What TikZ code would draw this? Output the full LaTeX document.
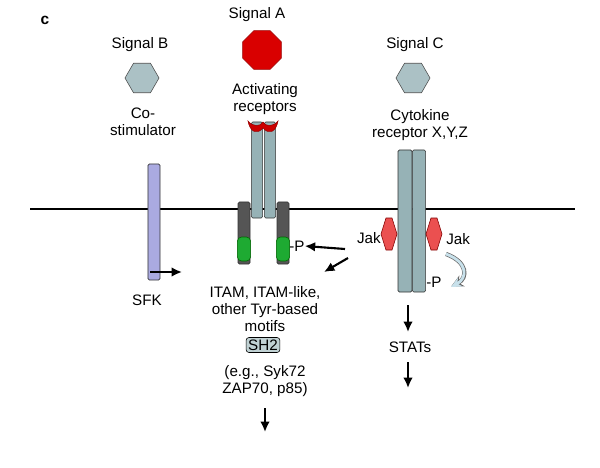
\documentclass[tikz,border=0pt]{standalone}
\usepackage{fontspec}
\setmainfont{Liberation Sans}
\usetikzlibrary{shapes,arrows.meta,positioning}
\definecolor{recgrey}{RGB}{150,178,182}
\definecolor{darkbar}{RGB}{85,85,85}
\definecolor{itamgreen}{RGB}{30,170,50}
\definecolor{jakred}{RGB}{235,80,80}
\definecolor{sfkblue}{RGB}{170,170,225}
\definecolor{curlblue}{RGB}{200,225,235}
\tikzset{
  lbl/.style={font=\fontsize{10.8}{12}\selectfont, align=center, inner sep=0pt},
  hexa/.style={regular polygon, regular polygon sides=6, draw=black!70, fill=recgrey!80, minimum size=0.85cm, inner sep=0pt},
  bar/.style={rectangle, draw=black!80, fill=recgrey, rounded corners=1pt, inner sep=0pt},
  sig/.style={-{Latex[length=2.6mm,width=2.4mm]}, line width=1.5pt},
  jak/.style={fill=jakred, draw=red!50!black},
}
\begin{document}
\begin{tikzpicture}[x=0.025cm, y=-0.025cm]
      \useasboundingbox (0,0) rectangle (600,468);
      %\draw[help lines] (0,0) grid[step=50] (600,468);

      \node [lbl, font=\bfseries\fontsize{11}{12}\selectfont] (tagc) at (45,20) {c};

      % membrane
      \coordinate (mleft) at (30,209);
      \coordinate (mright) at (575,209);
      \draw [line width=1.6pt] (mleft) -- (mright);

      % signal B
      \node [lbl] (sigb) at (140,45) {Signal B};
      \node [hexa] (hexb) at (142,78) {};
      \node [lbl] (costim) at (143,122) {Co-\\stimulator};
      \node [bar, fill=sfkblue, minimum width=0.3cm, minimum height=2.9cm] (sfk) at (154,222) {};
      \node [lbl] (sfklbl) at (147,300) {SFK};
      \coordinate (sfkarr) at (182,272);
      \draw [sig] (150,272) -- (sfkarr);

      % signal A
      \node [lbl] (siga) at (257,15) {Signal A};
      \node [regular polygon, regular polygon sides=8, draw=red!60!black, fill=red!85!black, minimum size=1.05cm, inner sep=0pt] (octa) at (262,50) {};
      \node [lbl] (actrec) at (265,99) {Activating\\receptors};
      \node [bar, minimum width=0.28cm, minimum height=2.4cm] (reca1) at (257,170) {};
      \node [bar, minimum width=0.28cm, minimum height=2.4cm] (reca2) at (270,170) {};
      \draw [fill=red!80!black, draw=red!60!black] (248,121) .. controls (250,132) and (257,135) .. (263,128)
            .. controls (269,135) and (276,132) .. (278,121) .. controls (273,127) and (266,127) .. (263,122)
            .. controls (260,127) and (253,127) .. cycle;
      \node [bar, fill=darkbar, minimum width=0.3cm, minimum height=1.55cm] (chainl) at (244,233) {};
      \node [bar, fill=darkbar, minimum width=0.3cm, minimum height=1.55cm] (chainr) at (283,233) {};
      \node [rectangle, rounded corners=3pt, fill=itamgreen, draw=green!40!black, minimum width=0.33cm, minimum height=0.6cm] (itaml) at (244,249) {};
      \node [rectangle, rounded corners=3pt, fill=itamgreen, draw=green!40!black, minimum width=0.33cm, minimum height=0.6cm] (itamr) at (283,249) {};
      \node [lbl, anchor=west] (pa) at (289,246) {-P};
      \draw [sig] (345,249) -- (pa.east);
      \draw [sig] (348,258) -- (324,272);
      \node [lbl] (itamtxt) at (265,309) {ITAM, ITAM-like,\\other Tyr-based\\motifs};
      \node [lbl, draw=black, fill=recgrey!60, rounded corners=2pt, inner sep=1.5pt] (sh2) at (263,345) {SH2};
      \node [lbl] (eg) at (265,381) {(e.g., Syk72\\ZAP70, p85)};
      \coordinate (aout) at (265,432);
      \draw [sig] (265,408) -- (aout);

      % signal C
      \node [lbl] (sigc) at (415,45) {Signal C};
      \node [hexa] (hexc) at (413,78) {};
      \node [lbl] (cytrec) at (420,125) {Cytokine\\receptor X,Y,Z};
      \node [bar, minimum width=0.35cm, minimum height=3.55cm] (recc1) at (405,221) {};
      \node [bar, minimum width=0.33cm, minimum height=3.55cm] (recc2) at (419,221) {};
      \draw [jak] (386,218) -- (392,218) -- (397,234) -- (392,250) -- (386,250) -- (381,234) -- cycle;
      \draw [jak] (431,218) -- (437,218) -- (442,234) -- (437,250) -- (431,250) -- (426,234) -- cycle;
      \node [lbl, anchor=east] (jakltxt) at (381,238) {Jak};
      \node [lbl, anchor=west] (jakrtxt) at (446,239) {Jak};
      \node [lbl, anchor=west] (pc) at (426,282) {-P};
      \draw [-{Stealth[length=3mm,width=3mm]}, line width=3pt, draw=black!60, shorten >=1pt] (446,254) .. controls (468,262) and (468,278) .. (450,287);
      \draw [-{Stealth[length=2.6mm,width=2.4mm]}, line width=2pt, draw=curlblue] (446,254) .. controls (468,262) and (468,278) .. (451,287);
      \coordinate (stin) at (408,332);
      \draw [sig] (408,305) -- (stin);
      \node [lbl] (stats) at (410,347) {STATs};
      \coordinate (stout) at (408,388);
      \draw [sig] (408,362) -- (stout);
\end{tikzpicture}
\end{document}
